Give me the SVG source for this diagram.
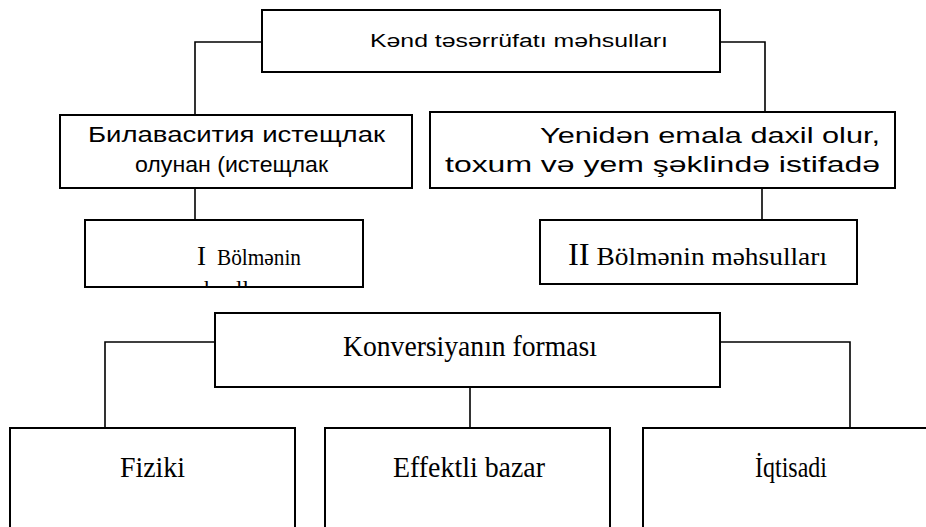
<svg xmlns="http://www.w3.org/2000/svg" width="926" height="527" viewBox="0 0 926 527">
<defs>
<style>
.box{fill:#fff;stroke:#000;stroke-width:2}
.con{fill:none;stroke:#000;stroke-width:1.6}
.sans{font-family:"Liberation Sans",Arial,sans-serif;fill:#000}
.serif{font-family:"Liberation Serif","Times New Roman",serif;fill:#000}
</style>
<clipPath id="clipI"><rect x="86" y="221" width="276" height="65"/></clipPath>
</defs>
<rect width="926" height="527" fill="#fff"/>
<g id="connectors">
<path class="con" d="M262,42 H195 V115"/>
<path class="con" d="M720,42 H765 V112"/>
<path class="con" d="M195,188 V220"/>
<path class="con" d="M762,188 V220"/>
<path class="con" d="M215,342 H105 V428"/>
<path class="con" d="M720,342 H850 V428"/>
<path class="con" d="M470,387 V428"/>
</g>
<g id="n-kend">
<rect class="box" x="262" y="10" width="458" height="62"/>
<text class="sans" x="370" y="47" font-size="18" textLength="298" lengthAdjust="spacingAndGlyphs">Kənd təsərrüfatı məhsulları</text>
</g>
<g id="n-bilavasite">
<rect class="box" x="60" y="115" width="352" height="73"/>
<text class="sans" x="88" y="142" font-size="22" textLength="297" lengthAdjust="spacingAndGlyphs">Билавасития истещлак</text>
<text class="sans" x="135" y="172" font-size="22" textLength="193" lengthAdjust="spacingAndGlyphs">олунан (истещлак</text>
</g>
<g id="n-yeniden">
<rect class="box" x="430" y="112" width="465" height="76"/>
<text class="sans" x="540" y="143" font-size="22" textLength="340" lengthAdjust="spacingAndGlyphs">Yenidən emala daxil olur,</text>
<text class="sans" x="445" y="172" font-size="22" textLength="435" lengthAdjust="spacingAndGlyphs">toxum və yem şəklində istifadə</text>
</g>
<g id="n-bolme1">
<rect class="box" x="85" y="220" width="278" height="67"/>
<g clip-path="url(#clipI)">
<text class="serif" x="197" y="265" font-size="27">I</text>
<text class="serif" x="217" y="265" font-size="23" textLength="84" lengthAdjust="spacingAndGlyphs">Bölmənin</text>
<text class="serif" x="176" y="297" font-size="23">məhsulları</text>
</g>
</g>
<g id="n-bolme2">
<rect class="box" x="540" y="220" width="317" height="64"/>
<text class="serif" x="568" y="265" font-size="26" textLength="259" lengthAdjust="spacingAndGlyphs"><tspan font-size="31">II</tspan> Bölmənin məhsulları</text>
</g>
<g id="n-konversiya">
<rect class="box" x="215" y="313" width="505" height="74"/>
<text class="serif" x="343" y="356" font-size="30" textLength="254" lengthAdjust="spacingAndGlyphs">Konversiyanın forması</text>
</g>
<g id="n-fiziki">
<rect class="box" x="10" y="428" width="285" height="120"/>
<text class="serif" x="120" y="477" font-size="29" textLength="65" lengthAdjust="spacingAndGlyphs">Fiziki</text>
</g>
<g id="n-effektli">
<rect class="box" x="325" y="428" width="285" height="120"/>
<text class="serif" x="393" y="477" font-size="29" textLength="152" lengthAdjust="spacingAndGlyphs">Effektli bazar</text>
</g>
<g id="n-iqtisadi">
<rect class="box" x="643" y="428" width="300" height="120"/>
<text class="serif" x="755" y="477" font-size="29" textLength="72" lengthAdjust="spacingAndGlyphs">İqtisadi</text>
</g>
</svg>
